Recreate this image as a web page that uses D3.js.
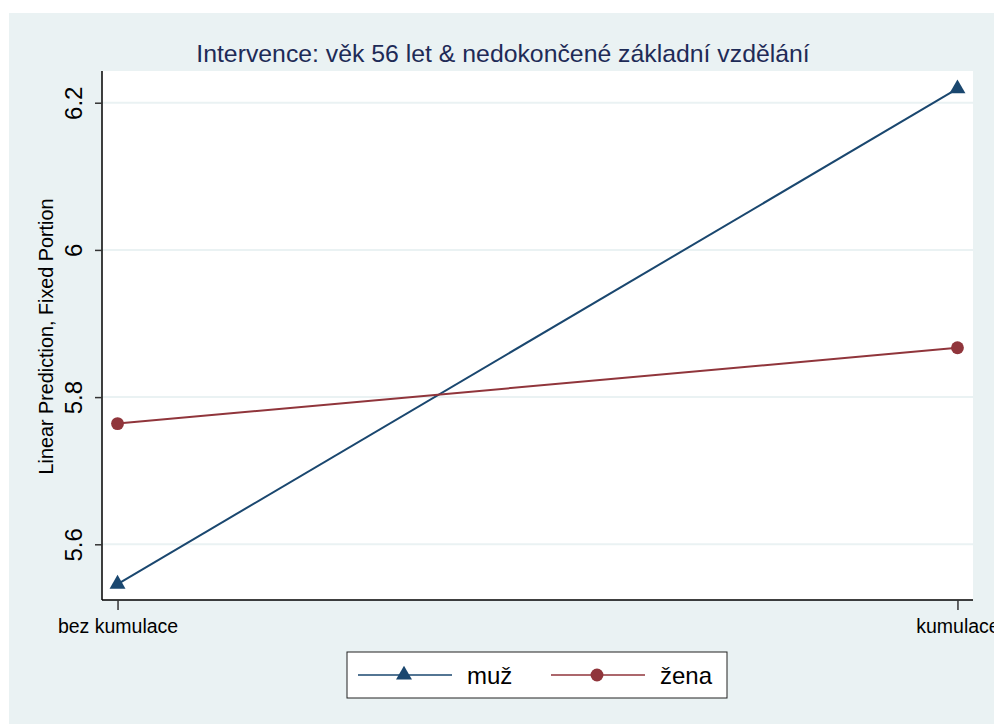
<!DOCTYPE html>
<html>
<head>
<meta charset="utf-8">
<script src="https://cdn.jsdelivr.net/npm/d3@7"></script>
<style>
  html, body { margin: 0; padding: 0; background: #fff; }
  svg { display: block; font-family: "Liberation Sans", Arial, Helvetica, sans-serif; }
</style>
</head>
<body>
<svg id="chart" width="994" height="725"></svg>
<script>
const categories = ['bez kumulace', 'kumulace']
const muzValues = [5.546, 6.219]
const zenaValues = [5.764, 5.867]
const yTicks = [5.6, 5.8, 6, 6.2]
const seriesNames = ['muž', 'žena']

const title = 'Intervence: věk 56 let & nedokončené základní vzdělání'
const yTitle = 'Linear Prediction, Fixed Portion'

const colors = { muz: '#1a476f', zena: '#90353b', bg: '#eaf2f3', grid: '#eaf2f3', title: '#1e2b57' }

const plot = { left: 102, right: 973, top: 71, bottom: 600 }

const svg = d3.select('#chart')

// outer graph region
svg.append('rect')
  .attr('x', 9).attr('y', 13)
  .attr('width', 985).attr('height', 711)
  .attr('fill', colors.bg)

// plot region
svg.append('rect')
  .attr('x', plot.left).attr('y', plot.top)
  .attr('width', plot.right - plot.left).attr('height', plot.bottom - plot.top)
  .attr('fill', '#fff')

const x = d3.scalePoint()
  .domain(categories)
  .range([plot.left, plot.right])
  .padding(0.0185)

const y = d3.scaleLinear()
  .domain([5.5243, 6.2431])
  .range([plot.bottom, plot.top])

// grid lines
svg.append('g')
  .selectAll('line')
  .data(yTicks)
  .enter()
  .append('line')
  .attr('x1', plot.left).attr('x2', plot.right)
  .attr('y1', (d) => y(d)).attr('y2', (d) => y(d))
  .attr('stroke', colors.grid)
  .attr('stroke-width', 2)

// y axis
const yAxis = svg.append('g')
  .attr('transform', `translate(${plot.left},0)`)
  .call(d3.axisLeft(y).tickValues(yTicks).tickSize(7).tickFormat(d3.format('')))
yAxis.select('.domain')
  .attr('d', `M0,${plot.top}V${plot.bottom}`)
  .attr('stroke', '#000').attr('stroke-width', 1.5)
yAxis.selectAll('.tick line').attr('stroke', '#333').attr('stroke-width', 1.5)
yAxis.selectAll('.tick text')
  .attr('x', null).attr('dy', null)
  .attr('transform', 'translate(-20,0) rotate(-90)')
  .attr('text-anchor', 'middle')
  .attr('font-size', 24)
  .attr('fill', '#000')

// x axis
const xAxis = svg.append('g')
  .attr('transform', `translate(0,${plot.bottom})`)
  .call(d3.axisBottom(x).tickSize(10))
xAxis.select('.domain')
  .attr('d', `M${plot.left},0H${plot.right}`)
  .attr('stroke', '#000').attr('stroke-width', 1.5)
xAxis.selectAll('.tick line').attr('stroke', '#333').attr('stroke-width', 1.5)
xAxis.selectAll('.tick text')
  .attr('y', 33).attr('dy', null)
  .attr('font-size', 19.5)
  .attr('fill', '#000')

svg.selectAll('g').attr('font-family', null)

// titles
svg.append('text')
  .attr('x', 503).attr('y', 62)
  .attr('text-anchor', 'middle')
  .attr('font-size', 24.8)
  .attr('fill', colors.title)
  .text(title)

svg.append('text')
  .attr('transform', `translate(53,${(plot.top + plot.bottom) / 2 + 1}) rotate(-90)`)
  .attr('text-anchor', 'middle')
  .attr('font-size', 19.8)
  .attr('fill', '#000')
  .text(yTitle)

// series
const series = [
  { name: seriesNames[0], values: muzValues, color: colors.muz, symbol: d3.symbolTriangle, size: 110 },
  { name: seriesNames[1], values: zenaValues, color: colors.zena, symbol: d3.symbolCircle, size: 130 },
]

const line = d3.line()
  .x((d) => x(d.cat))
  .y((d) => y(d.v))

series.forEach((s) => {
  const pts = categories.map((c, i) => ({ cat: c, v: s.values[i] }))
  svg.append('path')
    .datum(pts)
    .attr('d', line)
    .attr('fill', 'none')
    .attr('stroke', s.color)
    .attr('stroke-width', 2)
  svg.append('g')
    .selectAll('path')
    .data(pts)
    .enter()
    .append('path')
    .attr('transform', (d) => `translate(${x(d.cat)},${y(d.v)})`)
    .attr('d', d3.symbol().type(s.symbol).size(s.size))
    .attr('fill', s.color)
})

// legend
const legend = svg.append('g')
legend.append('rect')
  .attr('x', 347).attr('y', 652)
  .attr('width', 380).attr('height', 46)
  .attr('fill', '#fff')
  .attr('stroke', '#222').attr('stroke-width', 1)

const legendItems = legend.selectAll('g.item')
  .data(series)
  .enter()
  .append('g')
  .attr('class', 'item')
  .attr('transform', (d, i) => `translate(${358 + i * 193},675)`)

legendItems.append('line')
  .attr('x1', 0).attr('x2', 94)
  .attr('stroke', (d) => d.color)
  .attr('stroke-width', 1.5)
legendItems.append('path')
  .attr('transform', 'translate(46,0)')
  .attr('d', (d) => d3.symbol().type(d.symbol).size(d.size)())
  .attr('fill', (d) => d.color)
legendItems.append('text')
  .attr('x', 109).attr('y', 9)
  .attr('font-size', 24)
  .attr('fill', '#000')
  .text((d) => d.name)
</script>
</body>
</html>
